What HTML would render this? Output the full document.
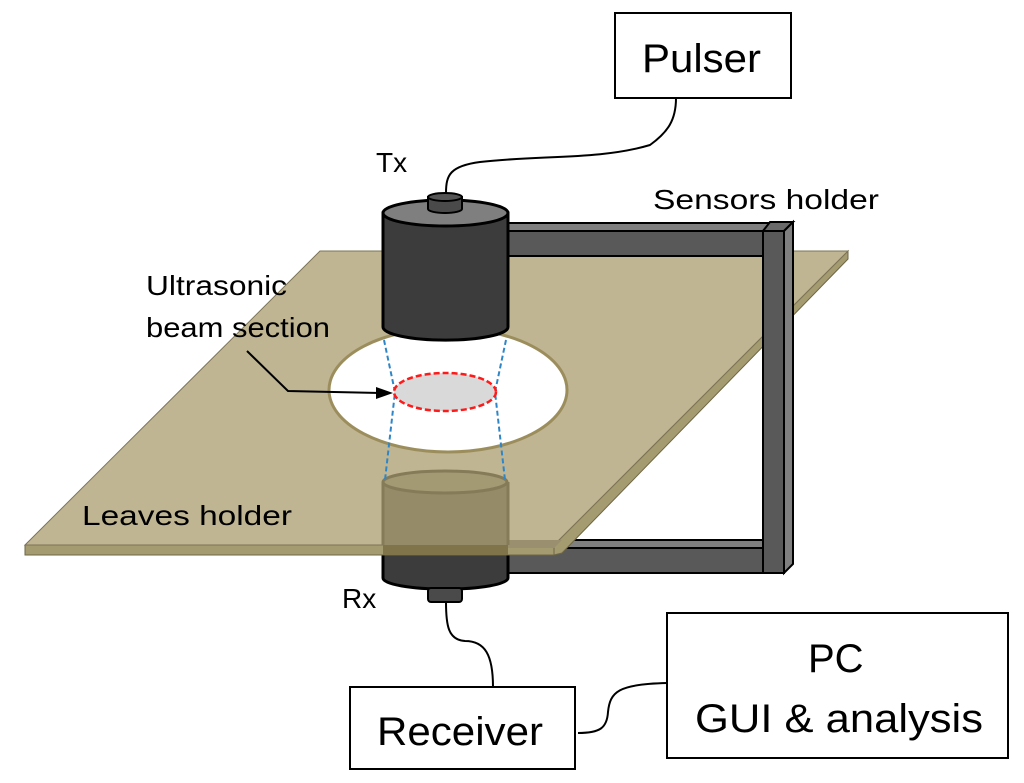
<!DOCTYPE html>
<html><head><meta charset="utf-8"><style>html,body{margin:0;padding:0;background:#fff}svg{display:block}</style></head>
<body>
<svg width="1024" height="783" viewBox="0 0 1024 783" xmlns="http://www.w3.org/2000/svg" font-family="'Liberation Sans', sans-serif">
<!-- lower arm -->
<polygon points="508,540 763,540 763,548 508,548" fill="#7f7f7f" stroke="#000" stroke-width="2"/>
<rect x="508" y="548" width="255" height="25" fill="#595959" stroke="#000" stroke-width="2"/>
<!-- Rx cylinder (dark parts) -->
<path d="M383,482 L383,578 A62,11 0 0 0 508,578 L508,482 Z" fill="#3c3c3c" stroke="#000" stroke-width="3"/>
<rect x="428" y="588" width="34" height="14" rx="3" fill="#4a4a4a" stroke="#000" stroke-width="2"/>
<!-- board -->
<polygon points="25,545 554,545 554,555 25,555" fill="#a59b70" stroke="#6e6646" stroke-width="1"/>
<polygon points="554,545 848,251 848,259 562,553 554,555" fill="#a59b70" stroke="#6e6646" stroke-width="1"/>
<polygon points="320,251 848,251 554,545 25,545" fill="#bfb592" stroke="#7d7456" stroke-width="1"/>
<!-- board over lower arm tint -->
<polygon points="508,540 562,540 554,548 508,548" fill="#9a9070"/>
<!-- Rx under board (tinted) -->
<path d="M383,482 L383,545 L508,545 L508,482 Z" fill="#958b68"/>
<ellipse cx="445" cy="482" rx="62" ry="11" fill="#a39a74" stroke="#857b58" stroke-width="3"/>
<line x1="383" y1="482" x2="383" y2="545" stroke="#857b58" stroke-width="3"/>
<line x1="508" y1="482" x2="508" y2="545" stroke="#857b58" stroke-width="3"/>
<rect x="383" y="545" width="125" height="10" fill="#7f744a"/>
<!-- hole -->
<ellipse cx="448" cy="390" rx="119" ry="62" fill="#fff" stroke="#9c8e5c" stroke-width="3"/>
<ellipse cx="448" cy="390" rx="115" ry="59" fill="none" stroke="#fff" stroke-width="1"/>
<!-- beam -->
<path d="M384,340 L395,392 L385,480 M506,340 L495,392 L505,480" fill="none" stroke="#2e86c8" stroke-width="2" stroke-dasharray="5,3"/>
<ellipse cx="445" cy="392" rx="51" ry="19" fill="#d9d9d9" stroke="#ff1a1a" stroke-width="2.5" stroke-dasharray="6,3"/>
<!-- arrow -->
<path d="M247,351 L288,391 L380,393" fill="none" stroke="#000" stroke-width="2"/>
<polygon points="393,393 376,387 376,399" fill="#000"/>
<!-- upper arm -->
<polygon points="508,223 770,223 763,231 508,231" fill="#7f7f7f" stroke="#000" stroke-width="2"/>
<rect x="500" y="231" width="263" height="25" fill="#595959" stroke="#000" stroke-width="2"/>
<!-- post -->
<polygon points="763,231 770,222 793,222 784,231" fill="#6a6a6a" stroke="#000" stroke-width="2"/>
<polygon points="784,231 793,222 793,564 784,573" fill="#7f7f7f" stroke="#000" stroke-width="2"/>
<rect x="763" y="231" width="21" height="342" fill="#595959" stroke="#000" stroke-width="2"/>
<!-- Tx cylinder -->
<path d="M383,213 L383,327 A62,13 0 0 0 508,327 L508,213 Z" fill="#3c3c3c" stroke="#000" stroke-width="3"/>
<ellipse cx="445.5" cy="213" rx="62.5" ry="13" fill="#7f7f7f" stroke="#000" stroke-width="3"/>
<path d="M428,197 L428,209 A17,4 0 0 0 462,209 L462,197 Z" fill="#4a4a4a" stroke="#000" stroke-width="2"/>
<ellipse cx="445" cy="197" rx="17" ry="4" fill="#555" stroke="#000" stroke-width="2"/>
<!-- wires -->
<path d="M446,193 C446,175 450,166 480,162 C540,155 600,160 650,145 C668,132 676,120 676,98" fill="none" stroke="#000" stroke-width="2"/>
<path d="M446,602 C446,625 448,640 465,641 C485,641 493,655 493,687" fill="none" stroke="#000" stroke-width="2"/>
<path d="M578,733 C600,733 607,728 608,712 C610,692 618,684 667,683" fill="none" stroke="#000" stroke-width="2"/>
<!-- boxes -->
<rect x="615" y="13" width="176" height="85" fill="#fff" stroke="#000" stroke-width="2"/>
<rect x="350" y="687" width="225" height="82" fill="#fff" stroke="#000" stroke-width="2"/>
<rect x="667" y="613" width="341" height="145" fill="#fff" stroke="#000" stroke-width="2"/>
<!-- text -->
<g fill="#000">
<text x="642" y="72" font-size="40" textLength="119" lengthAdjust="spacingAndGlyphs">Pulser</text>
<text x="377" y="745" font-size="40" textLength="166" lengthAdjust="spacingAndGlyphs">Receiver</text>
<text x="808" y="672" font-size="40">PC</text>
<text x="695" y="732" font-size="40" textLength="288" lengthAdjust="spacingAndGlyphs">GUI &amp; analysis</text>
<text x="376" y="172" font-size="28">Tx</text>
<text x="342" y="608" font-size="28">Rx</text>
<text x="653" y="209" font-size="28" textLength="226" lengthAdjust="spacingAndGlyphs">Sensors holder</text>
<text x="146" y="295" font-size="28" textLength="141" lengthAdjust="spacingAndGlyphs">Ultrasonic</text>
<text x="146" y="337" font-size="28" textLength="184" lengthAdjust="spacingAndGlyphs">beam section</text>
<text x="82" y="525" font-size="28" textLength="210" lengthAdjust="spacingAndGlyphs">Leaves holder</text>
</g>
</svg>
</body></html>
